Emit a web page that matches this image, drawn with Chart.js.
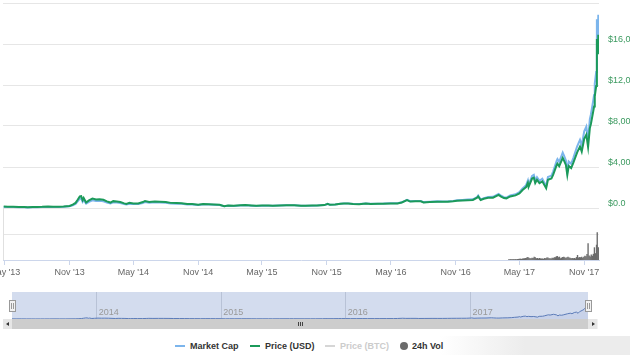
<!DOCTYPE html>
<html><head><meta charset="utf-8">
<script src="https://cdn.jsdelivr.net/npm/chart.js@4/dist/chart.umd.min.js"></script>
<style>
html,body{margin:0;padding:0;background:#fff;width:630px;height:355px;overflow:hidden;font-family:"Liberation Sans",Arial,sans-serif;}
#wrap{position:relative;width:630px;height:355px;}
#main{position:absolute;left:0;top:0;}
#nav{position:absolute;left:0;top:290px;}
.abs{position:absolute;}
.handle{position:absolute;width:5px;height:10px;background:#f2f2f2;border:1px solid #999;box-sizing:content-box;}
.handle:after{content:"";position:absolute;left:1px;top:2px;width:1px;height:6px;border-left:1px solid #999;border-right:1px solid #999;}
#track{left:3px;top:319px;width:595px;height:10px;background:#f2f2f2;}
#thumb{top:319px;height:10px;background:#cdcdcd;}
.btn{position:absolute;top:319px;width:9px;height:10px;background:#e6e6e6;border:0;}
.tri{position:absolute;top:3px;width:0;height:0;border-top:2px solid transparent;border-bottom:2px solid transparent;}
.grip{position:absolute;top:322px;width:1px;height:4px;background:#444;}
.leg{position:absolute;top:340px;font-size:9px;font-weight:bold;color:#333;line-height:12px;white-space:nowrap;}
.legline{position:absolute;top:345px;height:2px;width:10px;}
#shadow{left:440px;top:336px;width:190px;height:19px;background:linear-gradient(to right,rgba(236,236,236,0),#ececec 45%);}
</style></head>
<body><div id="wrap">
<div id="shadow" class="abs"></div>
<canvas id="main" width="630" height="290"></canvas>
<canvas id="nav" width="630" height="30"></canvas>
<div id="track" class="abs"></div>
<div id="thumb" class="abs"></div>
<div id="btnL" class="btn"><div class="tri" style="left:3px;border-right:3px solid #333;"></div></div>
<div id="btnR" class="btn"><div class="tri" style="left:4px;border-left:3px solid #333;"></div></div>
<div id="g1" class="grip"></div><div id="g2" class="grip"></div><div id="g3" class="grip"></div>
<div id="hL" class="handle"></div><div id="hR" class="handle"></div>

<div class="legline" style="left:175px;background:#7cb5ec;"></div>
<div class="leg" style="left:190px;">Market Cap</div>
<div class="legline" style="left:250px;background:#1b9a5a;"></div>
<div class="leg" style="left:265px;">Price (USD)</div>
<div class="legline" style="left:325px;background:#d6d6d6;"></div>
<div class="leg" style="left:340px;color:#cccccc;">Price (BTC)</div>
<div class="abs" style="left:400px;top:342px;width:8px;height:8px;border-radius:50%;background:#6b6b6b;"></div>
<div class="leg" style="left:412px;">24h Vol</div>
</div>
<script>
// ---------- data ----------
const dates = [
'2013-04-28','2013-05-10','2013-05-25','2013-06-10','2013-06-25','2013-07-05','2013-07-20','2013-08-01','2013-08-15','2013-09-01','2013-09-15','2013-10-01','2013-10-15','2013-11-01','2013-11-10','2013-11-18','2013-11-24','2013-11-30','2013-12-04','2013-12-08','2013-12-11','2013-12-18','2013-12-26',
'2014-01-05','2014-01-15','2014-01-25','2014-02-05','2014-02-15','2014-02-25','2014-03-05','2014-03-15','2014-03-25','2014-04-05','2014-04-11','2014-04-20','2014-05-01','2014-05-15','2014-05-28','2014-06-03','2014-06-15','2014-07-01','2014-07-15','2014-08-01','2014-08-15','2014-09-01','2014-09-15','2014-10-01','2014-10-15','2014-11-01','2014-11-15','2014-12-01','2014-12-15',
'2015-01-01','2015-01-14','2015-01-25','2015-02-10','2015-03-01','2015-03-15','2015-04-01','2015-04-15','2015-05-01','2015-05-20','2015-06-01','2015-06-20','2015-07-10','2015-07-20','2015-08-01','2015-08-20','2015-09-01','2015-09-20','2015-10-05','2015-10-25','2015-11-04','2015-11-10','2015-11-25','2015-12-10','2015-12-20',
'2016-01-01','2016-01-15','2016-02-01','2016-02-20','2016-03-05','2016-03-25','2016-04-10','2016-04-30','2016-05-20','2016-06-01','2016-06-16','2016-06-25','2016-07-10','2016-07-25','2016-08-02','2016-08-20','2016-09-10','2016-09-25','2016-10-10','2016-10-25','2016-11-05','2016-11-20','2016-12-05','2016-12-20',
'2017-01-01','2017-01-04','2017-01-11','2017-01-20','2017-02-01','2017-02-15','2017-03-03','2017-03-10','2017-03-18','2017-03-25','2017-04-05','2017-04-20','2017-05-01','2017-05-10','2017-05-20','2017-05-25','2017-05-27','2017-06-06','2017-06-11','2017-06-15','2017-06-20','2017-06-27','2017-07-05','2017-07-16','2017-07-21','2017-07-31','2017-08-05','2017-08-15','2017-08-17','2017-08-22','2017-09-01','2017-09-05','2017-09-10','2017-09-14','2017-09-18','2017-09-25','2017-10-01','2017-10-12','2017-10-20','2017-10-25','2017-11-01','2017-11-07','2017-11-12','2017-11-17','2017-11-20','2017-11-26','2017-11-29','2017-12-01','2017-12-05','2017-12-07','2017-12-08','2017-12-10','2017-12-11'];

const priceUSD = [
135,118,130,108,103,70,90,105,112,140,128,126,148,205,330,495,800,1128,1150,760,980,540,740,
920,830,860,800,650,530,670,630,580,450,400,500,450,450,580,670,590,640,620,590,500,480,470,385,395,325,380,375,350,
315,180,250,220,260,285,245,220,235,237,225,245,270,280,280,230,228,232,240,285,400,310,350,415,440,
430,380,375,440,400,415,420,450,440,535,765,630,650,655,545,580,620,605,615,650,700,730,765,790,
1000,1135,780,895,990,1010,1280,1110,970,940,1130,1230,1420,1750,2040,2450,2050,2870,2960,2440,2750,2430,2600,1930,2750,2875,3250,4200,4330,4080,4890,4600,4200,3230,4100,3900,4400,5430,6000,5500,6740,7150,5950,7800,8200,9300,9900,10900,11900,16500,16000,15000,16900];

const marketCapB = [
1.50,1.32,1.46,1.22,1.17,0.80,1.03,1.21,1.29,1.62,1.50,1.48,1.75,2.43,3.93,5.92,9.60,13.54,13.86,9.16,11.83,6.53,8.99,
11.22,10.17,10.58,9.88,8.06,6.58,8.34,7.88,7.28,5.67,5.05,6.33,5.72,5.74,7.42,8.59,7.59,8.28,8.06,7.70,6.55,6.31,6.20,5.10,5.25,4.34,5.09,5.06,4.74,
4.28,2.46,3.43,3.03,3.60,3.96,3.42,3.08,3.30,3.35,3.20,3.49,3.87,4.03,4.05,3.34,3.32,3.40,3.53,4.22,5.94,4.62,5.23,6.23,6.62,
6.49,5.76,5.70,6.71,6.12,6.37,6.49,6.98,6.86,8.37,12.01,9.90,10.24,10.35,8.61,9.19,9.86,9.64,9.81,10.39,11.20,11.70,12.28,12.70,
16.07,18.25,12.56,14.43,15.98,16.33,20.74,18.00,15.75,15.28,18.39,20.05,23.17,28.60,33.37,40.11,33.56,47.04,48.54,40.04,45.16,39.92,42.77,31.79,45.32,47.44,53.63,69.38,71.57,67.48,80.93,76.18,69.59,53.55,67.98,64.74,73.04,90.30,99.84,91.58,112.29,119.19,99.25,130.18,136.94,155.40,165.43,182.25,198.97,276.05,267.68,250.95,282.91];

const volDates = [
'2017-04-01','2017-04-04','2017-04-07','2017-04-10','2017-04-13','2017-04-16','2017-04-19','2017-04-22','2017-04-25','2017-04-28',
'2017-05-01','2017-05-04','2017-05-07','2017-05-10','2017-05-13','2017-05-16','2017-05-19','2017-05-22','2017-05-25','2017-05-28','2017-05-31',
'2017-06-03','2017-06-06','2017-06-09','2017-06-12','2017-06-15','2017-06-18','2017-06-21','2017-06-24','2017-06-27','2017-06-30',
'2017-07-03','2017-07-06','2017-07-09','2017-07-12','2017-07-15','2017-07-18','2017-07-21','2017-07-24','2017-07-27','2017-07-30',
'2017-08-02','2017-08-05','2017-08-08','2017-08-11','2017-08-14','2017-08-17','2017-08-20','2017-08-23','2017-08-26','2017-08-29',
'2017-09-01','2017-09-04','2017-09-07','2017-09-10','2017-09-13','2017-09-16','2017-09-19','2017-09-22','2017-09-25','2017-09-28',
'2017-10-01','2017-10-04','2017-10-07','2017-10-10','2017-10-13','2017-10-16','2017-10-19','2017-10-22','2017-10-25','2017-10-28','2017-10-31',
'2017-11-03','2017-11-06','2017-11-09','2017-11-12','2017-11-15','2017-11-18','2017-11-21','2017-11-24','2017-11-27','2017-11-30',
'2017-12-03','2017-12-06','2017-12-08','2017-12-11'];
const volumeB = [
0.35,0.4,0.45,0.4,0.5,0.35,0.45,0.4,0.5,0.55,
0.7,0.8,0.6,0.9,1.0,1.1,1.3,1.6,2.0,1.4,1.1,
1.0,1.5,1.2,2.2,1.9,1.1,1.3,0.9,1.3,1.0,
0.9,0.9,0.7,1.2,1.1,1.6,1.7,1.0,1.1,0.9,
1.4,1.3,1.9,1.9,2.6,2.8,1.9,2.3,1.1,1.6,
2.0,2.2,1.8,1.3,1.9,2.3,1.7,1.5,1.1,1.3,
1.0,1.3,1.0,2.0,3.6,1.7,2.0,1.8,2.2,1.4,2.3,
3.0,2.6,4.3,12.6,3.2,2.4,4.0,3.1,4.5,9.5,
5.0,11.5,21.0,9.5];

const xTickDates = ['2013-05-01','2013-11-01','2014-05-01','2014-11-01','2015-05-01','2015-11-01','2016-05-01','2016-11-01','2017-05-01','2017-11-01'];
const xTickLabels = ["May '13","Nov '13","May '14","Nov '14","May '15","Nov '15","May '16","Nov '16","May '17","Nov '17"];
const priceTicks = [0,4000,8000,12000,16000,20000];
const navYearDates = ['2014-01-01','2015-01-01','2016-01-01','2017-01-01'];
const navYearLabels = ['2014','2015','2016','2017'];

// ---------- scale settings ----------
const ms = s => Date.parse(s + 'T00:00:00Z');
const X_MIN = ms('2013-04-26'), X_MAX = ms('2017-12-13');
const PRICE_MAX = 20000;
const VOL_FRAC = 52/257;
const PRICE_MIN = -PRICE_MAX*VOL_FRAC/(1-VOL_FRAC);
const MC_MAX = 300, MC_MIN = -MC_MAX*VOL_FRAC/(1-VOL_FRAC);
const VOL_PANEL_TOP = 40, VOL_MAX = VOL_PANEL_TOP/VOL_FRAC, VOL_GRID = 20;
const volGridPrice = PRICE_MIN + (PRICE_MAX-PRICE_MIN)*VOL_GRID/VOL_MAX;

Chart.defaults.font.family = '"Liberation Sans", Arial, sans-serif';

const panelBorder = {
  id:'panelBorder',
  afterDraw(chart){
    const {ctx, chartArea, scales} = chart;
    const y0 = scales.y.getPixelForValue(0);
    ctx.save(); ctx.strokeStyle = '#e0e0e0'; ctx.lineWidth = 1;
    ctx.beginPath(); ctx.moveTo(chartArea.left+0.5, y0); ctx.lineTo(chartArea.left+0.5, chartArea.bottom); ctx.stroke();
    ctx.restore();
  }
};

const pts = (xs, ys) => xs.map((d,i)=>({x:ms(d), y:ys[i]}));

new Chart(document.getElementById('main'), {
  type:'line',
  data:{datasets:[
    {label:'Price (USD)', data:pts(dates, priceUSD), borderColor:'#1b9a5a', borderWidth:2, pointRadius:0, tension:0, yAxisID:'y', order:0},
    {label:'Market Cap', data:pts(dates, marketCapB), borderColor:'#7cb5ec', borderWidth:2, pointRadius:0, tension:0, yAxisID:'yMC', order:1},
    {type:'bar', label:'24h Vol', data:pts(volDates, volumeB), backgroundColor:'#6b6b6b', borderWidth:0, yAxisID:'yVol', barPercentage:1, categoryPercentage:1, order:2}
  ]},
  options:{
    responsive:false, animation:false, events:[],
    layout:{padding:{left:3, top:3, right:0, bottom:0}},
    plugins:{legend:{display:false}, tooltip:{enabled:false}},
    scales:{
      x:{type:'linear', min:X_MIN, max:X_MAX, offset:false,
        afterBuildTicks:s=>{ s.ticks = xTickDates.map(d=>({value:ms(d)})); },
        afterFit:s=>{ s.height = 30; s.paddingLeft = 0; s.paddingRight = 0; },
        ticks:{autoSkip:false, maxRotation:0, minRotation:0, padding:2, color:'#666', font:{size:9}, callback:(v,i)=>xTickLabels[i]},
        grid:{drawOnChartArea:false, drawTicks:true, tickLength:5, color:'#ccd6eb', offset:false},
        border:{display:true, color:'#ccd6eb'}
      },
      y:{position:'right', min:PRICE_MIN, max:PRICE_MAX,
        afterBuildTicks:s=>{ s.ticks = [volGridPrice, ...priceTicks].map(v=>({value:v})); },
        afterFit:s=>{ s.width = 31; s.paddingTop = 0; s.paddingBottom = 0; },
        ticks:{padding:9, labelOffset:-4, crossAlign:'near', color:'#3c9a60', font:{size:9},
          callback:v=>{ if (v < 0 || v === PRICE_MAX) return ''; if (v === 0) return '$0.0'; return '$' + v.toLocaleString('en-US'); }},
        grid:{color:'#e6e6e6', drawTicks:false},
        border:{display:false}
      },
      yMC:{display:false, min:MC_MIN, max:MC_MAX},
      yVol:{display:false, min:0, max:VOL_MAX}
    }
  },
  plugins:[panelBorder]
});

const navBg = {
  id:'navBg',
  beforeDraw(chart){
    const {ctx, chartArea:a} = chart;
    ctx.save(); ctx.fillStyle = '#d3dcee'; ctx.fillRect(a.left, a.top, a.right-a.left, a.bottom-a.top); ctx.restore();
  },
  afterDatasetsDraw(chart){
    const {ctx, chartArea:a, scales} = chart;
    ctx.save();
    ctx.fillStyle = '#999'; ctx.font = '9px "Liberation Sans", Arial, sans-serif';
    ctx.textAlign = 'left'; ctx.textBaseline = 'middle';
    navYearDates.forEach((d,i)=>{
      ctx.fillText(navYearLabels[i], scales.x.getPixelForValue(ms(d)) + 2, a.bottom - 6);
    });
    ctx.restore();
  }
};

const navChart = new Chart(document.getElementById('nav'), {
  type:'line',
  data:{datasets:[
    {label:'nav', data:pts(dates, priceUSD), borderColor:'#5b7bb8', borderWidth:1, pointRadius:0, tension:0, fill:'origin', backgroundColor:'rgba(51,92,173,0.07)'}
  ]},
  options:{
    responsive:false, animation:false, events:[],
    layout:{padding:{left:12, right:42, top:2, bottom:1}},
    plugins:{legend:{display:false}, tooltip:{enabled:false}},
    scales:{
      x:{type:'linear', min:ms(dates[0]), max:ms(dates[dates.length-1]),
        afterBuildTicks:s=>{ s.ticks = navYearDates.map(d=>({value:ms(d)})); },
        afterFit:s=>{ s.height = 0; s.paddingLeft = 0; s.paddingRight = 0; },
        ticks:{display:false},
        grid:{drawOnChartArea:true, drawTicks:false, color:'rgba(150,162,185,0.45)'},
        border:{display:false}
      },
      y:{display:false, min:0, max:28000}
    }
  },
  plugins:[navBg]
});

// scrollbar + handles positioned from the navigator's chart area
(function(){
  const a = navChart.chartArea, top = 290;
  const L = a.left, R = a.right;
  const thumb = document.getElementById('thumb');
  thumb.style.left = L + 'px'; thumb.style.width = (R - L) + 'px';
  document.getElementById('btnL').style.left = (L - 9) + 'px';
  document.getElementById('btnR').style.left = R + 'px';
  const mid = Math.round((L + R)/2);
  ['g1','g2','g3'].forEach((id,k)=>{ document.getElementById(id).style.left = (mid - 2 + k*2) + 'px'; });
  const hy = top + (a.top + a.bottom)/2 - 6;
  const hL = document.getElementById('hL'), hR = document.getElementById('hR');
  hL.style.left = (L - 3.5) + 'px'; hL.style.top = hy + 'px';
  hR.style.left = (R - 3.5) + 'px'; hR.style.top = hy + 'px';
})();
</script>
</body></html>
